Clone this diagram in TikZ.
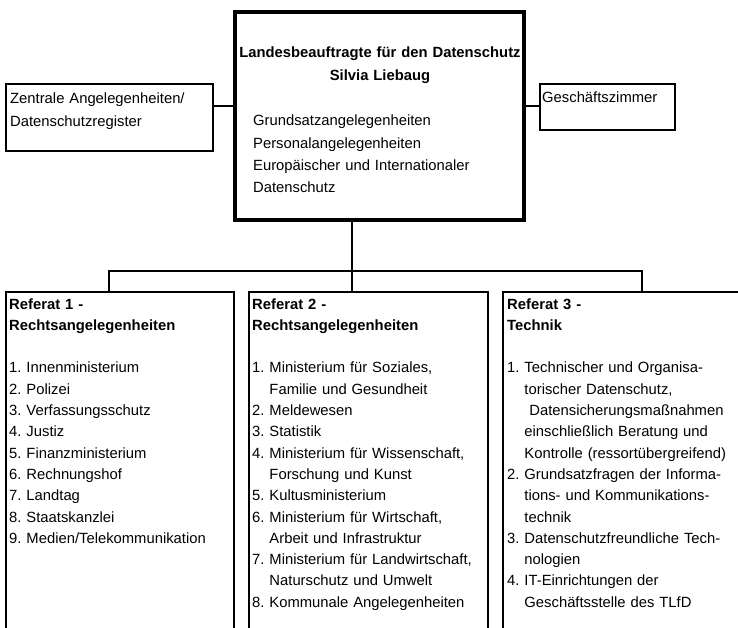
\documentclass[tikz,border=0pt]{standalone}
\usepackage{fontspec}
\setmainfont{Liberation Sans}
\usetikzlibrary{positioning}
\newcommand{\ind}{\hphantom{1.\ }}
\frenchspacing

\begin{document}
\begin{tikzpicture}[x=1pt, y=-1pt,
  box/.style={rectangle, draw, line width=2pt, inner sep=0pt, anchor=north west},
  chief/.style={box, line width=4pt},
  txt/.style={anchor=base west, align=left, text width=260pt, inner sep=0pt,
              font=\fontsize{14.8}{21.3}\selectfont},
  link/.style={line width=1.5pt},
  bar/.style={line width=2pt},
]
\clip (0,0) rectangle (738,628);

% leitung
\node[chief, minimum width=289pt, minimum height=208pt] (lb) at (233,10) {};
\node[txt, anchor=base, align=center, text width=300pt,
      font=\fontsize{14.8}{23}\selectfont\bfseries] (lbhead) at (380,58)
      {Landesbeauftragte für den Datenschutz\\ Silvia Liebaug};
\node[txt, font=\fontsize{14.8}{22.2}\selectfont] (lbtxt) at (253,126)
      {Grundsatzangelegenheiten\\ Personalangelegenheiten\\
       Europäischer und Internationaler\\ Datenschutz};

% stabsstellen
\node[box, minimum width=207pt, minimum height=67pt] (za) at (5,83) {};
\node[txt, font=\fontsize{14.8}{22.5}\selectfont] (zatxt) at (10,104)
      {Zentrale Angelegenheiten/\\ Datenschutzregister};
\node[box, minimum width=135pt, minimum height=46pt] (gz) at (539,83) {};
\node[txt] (gztxt) at (542,103) {Geschäftszimmer};

% referate
\node[box, minimum width=228pt, minimum height=400pt] (r1) at (5,291) {};
\node[box, minimum width=239pt, minimum height=400pt] (r2) at (248,291) {};
\node[box, minimum width=300pt, minimum height=400pt] (r3) at (502,291) {};

\node[txt] (r1txt) at (9,309)
      {\textbf{Referat 1 -}\\ \textbf{Rechtsangelegenheiten}\\[21.3pt]
       1. Innenministerium\\ 2. Polizei\\ 3. Verfassungsschutz\\ 4. Justiz\\
       5. Finanzministerium\\ 6. Rechnungshof\\ 7. Landtag\\ 8. Staatskanzlei\\
       9. Medien/Telekommunikation};
\node[txt] (r2txt) at (252,309)
      {\textbf{Referat 2 -}\\ \textbf{Rechtsangelegenheiten}\\[21.3pt]
       1. Ministerium für Soziales,\\ \ind Familie und Gesundheit\\
       2. Meldewesen\\ 3. Statistik\\
       4. Ministerium für Wissenschaft,\\ \ind Forschung und Kunst\\
       5. Kultusministerium\\
       6. Ministerium für Wirtschaft,\\ \ind Arbeit und Infrastruktur\\
       7. Ministerium für Landwirtschaft,\\ \ind Naturschutz und Umwelt\\
       8. Kommunale Angelegenheiten};
\node[txt] (r3txt) at (507,309)
      {\textbf{Referat 3 -}\\ \textbf{Technik}\\[21.3pt]
       1. Technischer und Organisa-\\ \ind torischer Datenschutz,\\
       \ind\ Datensicherungsmaßnahmen\\ \ind einschließlich Beratung und\\
       \ind Kontrolle (ressortübergreifend)\\
       2. Grundsatzfragen der Informa-\\ \ind tions- und Kommunikations-\\
       \ind technik\\
       3. Datenschutzfreundliche Tech-\\ \ind nologien\\
       4. IT-Einrichtungen der\\ \ind Geschäftsstelle des TLfD};

% verbindungen
\coordinate (mid) at (0,106);
\coordinate (bus) at (352,271);
\draw[link] (za.east |- mid) -- (lb.west |- mid);
\draw[link] (lb.east |- mid) -- (gz.west |- mid);
\draw[bar] (lb.south -| bus) -- (bus);
\draw[bar] ([xshift=104pt]r1.north west) |- (bus) -| ([xshift=140pt]r3.north west);
\draw[bar] (bus) -- (r2.north -| bus);
\end{tikzpicture}
\end{document}
